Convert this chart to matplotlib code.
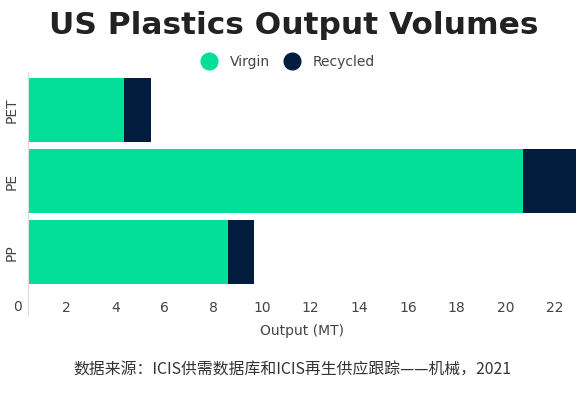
import matplotlib.pyplot as plt
from matplotlib.lines import Line2D

# --- data ---
categories = ["PET", "PE", "PP"]
virgin = [4.35, 20.7, 8.6]
recycled = [1.1, 2.2, 1.1]
xticks = list(range(0, 23, 2))

green = "#03DE98"
navy = "#021C3E"
grey = "#444444"

fig = plt.figure(figsize=(5.88, 3.93), dpi=100)
ax = fig.add_axes([0.0476, 0.244, 0.9324, 0.573])

ypos = range(len(categories))
ax.barh(ypos, virgin, height=0.9, color=green, label="Virgin")
ax.barh(ypos, recycled, left=virgin, height=0.9, color=navy, label="Recycled")

ax.set_yticks(list(ypos))
ax.set_yticklabels(categories, rotation=90, va="center", fontsize=10, color=grey)
ax.set_xticks(xticks[1:])
ax.set_xticklabels([str(t) for t in xticks[1:]], fontsize=10, color=grey)
# limits after ticks so set_xticks does not widen them
ax.set_ylim(2.63, -0.535)
ax.set_xlim(0.41, 22.9)
ax.tick_params(length=0, axis="x", pad=3)
ax.tick_params(length=0, axis="y", pad=7)
# the "0" sits left of the axis line in the original
ax.text(0, -0.0135, "0", transform=ax.get_xaxis_transform(), ha="center", va="top",
        fontsize=10, color=grey, clip_on=False)

for s in ["top", "right", "bottom"]:
    ax.spines[s].set_visible(False)
ax.spines["left"].set_color("#dddddd")
ax.spines["left"].set_linewidth(0.8)
ax.spines["left"].set_bounds(2.9, -0.535)

ax.set_xlabel("Output (MT)", fontsize=10, color=grey, labelpad=6)

fig.text(0.5, 0.936, "US Plastics Output Volumes", ha="center", va="center",
         fontsize=22.5, fontweight="bold", family="DejaVu Sans", color="#222222")

handles = [Line2D([], [], marker="o", ls="", ms=12, color=green),
           Line2D([], [], marker="o", ls="", ms=12, color=navy)]
fig.legend(handles, ["Virgin", "Recycled"], loc="center", bbox_to_anchor=(0.485, 0.842),
           ncol=2, frameon=False, fontsize=10, handletextpad=0.5, columnspacing=0.6,
           labelcolor=grey)

fig.text(0.497, 0.0585, "数据来源：ICIS供需数据库和ICIS再生供应跟踪——机械，2021",
         ha="center", va="center", fontsize=11.4, color="#333333",
         family=["Noto Sans CJK SC", "DejaVu Sans"])

fig.savefig("out.png", dpi=100)
